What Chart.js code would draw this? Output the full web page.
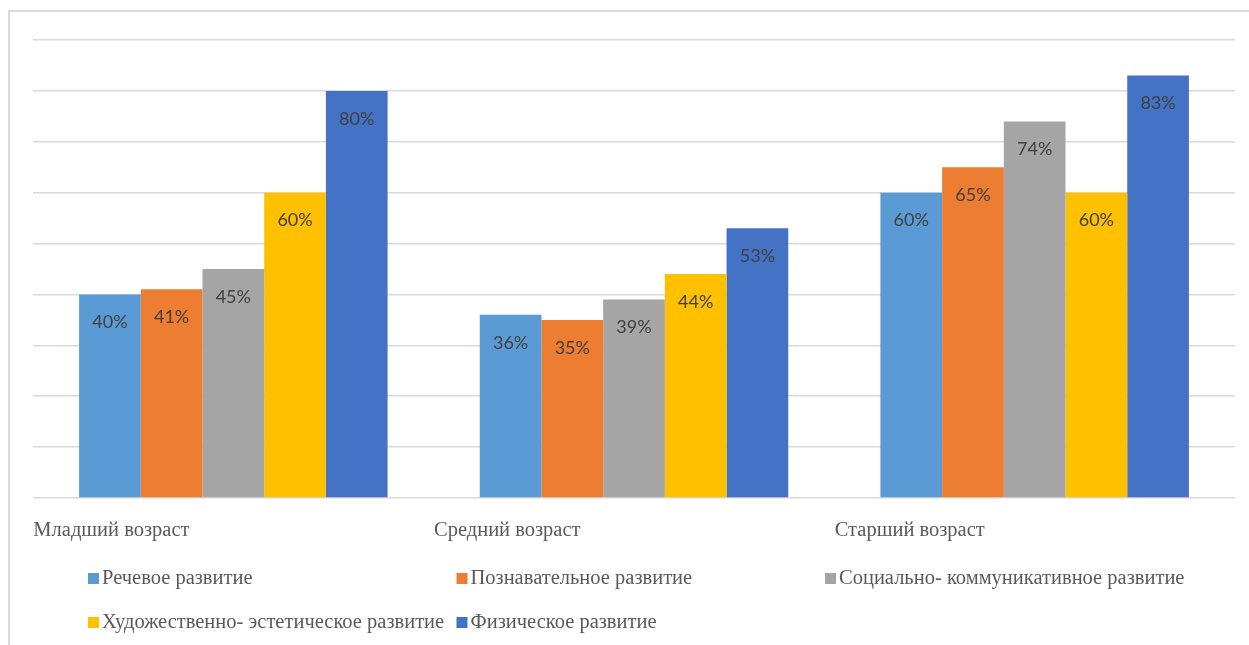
<!DOCTYPE html>
<html>
<head>
<meta charset="utf-8">
<script src="https://cdn.jsdelivr.net/npm/chart.js@4/dist/chart.umd.min.js"></script>
<style>
  html, body { margin: 0; padding: 0; background: #fff; overflow: hidden; }
  #frame { position: absolute; left: 8px; top: 10px; width: 1400px; height: 800px;
           border-left: 2px solid #d9d9d9; border-top: 2px solid #d9d9d9; }
  #wrap { position: absolute; left: 0; top: 0; width: 1249px; height: 645px; }
</style>
</head>
<body>
<div id="frame"></div>
<div id="wrap"><canvas id="chart"></canvas></div>
<script>
// categories and series
const groups = ['Младший возраст', 'Средний возраст', 'Старший возраст'];
const seriesNames = ['Речевое развитие', 'Познавательное развитие', 'Социально- коммуникативное развитие',
                     'Художественно- эстетическое развитие', 'Физическое развитие'];
const speech    = [40, 36, 60];
const cognitive = [41, 35, 65];
const social    = [45, 39, 74];
const artistic  = [60, 44, 60];
const physical  = [80, 53, 83];
const colors = ['#5b9bd5', '#ed7d31', '#a5a5a5', '#ffc000', '#4472c4'];

const serif = '"Liberation Serif", "Times New Roman", serif';

// value labels inside bars
const valueLabels = {
  id: 'valueLabels',
  afterDatasetsDraw(c) {
    const ctx = c.ctx;
    ctx.save();
    ctx.font = '18px Lato, sans-serif';
    ctx.fillStyle = '#404040';
    ctx.textAlign = 'center';
    ctx.textBaseline = 'middle';
    c.data.datasets.forEach((ds, i) => {
      c.getDatasetMeta(i).data.forEach((bar, j) => {
        ctx.fillText(ds.data[j] + '%', bar.x, bar.y + 28);
      });
    });
    ctx.restore();
  }
};

// legend in a grid of 3 columns
const gridLegend = {
  id: 'gridLegend',
  afterDraw(c) {
    const ctx = c.ctx;
    ctx.save();
    ctx.font = '20.5px ' + serif;
    ctx.textBaseline = 'middle';
    c.data.datasets.forEach((ds, i) => {
      const col = i % 3, row = Math.floor(i / 3);
      const x = 88 + col * 368.5, y = 579 + row * 44;
      ctx.fillStyle = ds.backgroundColor;
      ctx.fillRect(x, y - 6, 11, 11);
      ctx.fillStyle = '#595959';
      ctx.fillText(ds.label, x + 14, y);
    });
    ctx.restore();
  }
};

const chart = document.querySelector('#chart').getContext('2d');

new Chart(chart, {
  type: 'bar',
  data: {
    labels: groups,
    datasets: [speech, cognitive, social, artistic, physical].map((d, i) => ({
      label: seriesNames[i],
      data: d,
      backgroundColor: colors[i],
      categoryPercentage: 0.77,
      barPercentage: 1
    }))
  },
  options: {
    responsive: true,
    maintainAspectRatio: false,
    animation: false,
    layout: { padding: { left: 33, right: 14, top: 40, bottom: 0 } },
    plugins: { legend: { display: false }, tooltip: { enabled: false } },
    scales: {
      x: {
        grid: { display: false },
        border: { display: false },
        ticks: {
          font: { family: serif, size: 20.5 },
          color: '#595959',
          align: 'start',
          labelOffset: -200,
          padding: 12
        },
        afterFit(s) { s.height = 147; }
      },
      y: {
        min: 0,
        max: 90,
        ticks: { display: false, stepSize: 10 },
        grid: { color: '#d9d9d9', lineWidth: 1.5, drawTicks: false },
        border: { display: false },
        afterFit(s) { s.width = 0; }
      }
    }
  },
  plugins: [valueLabels, gridLegend]
});
</script>
</body>
</html>
